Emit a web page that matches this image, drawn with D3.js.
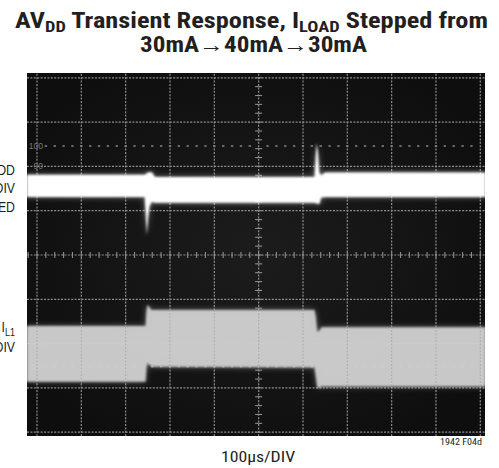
<!DOCTYPE html>
<html><head><meta charset="utf-8">
<script src="https://cdn.jsdelivr.net/npm/d3@7"></script>
<style>body{margin:0;background:#fff}svg{display:block}</style>
</head><body>
<svg id="c" width="499" height="468"></svg>
<script>
// ---- data (time in µs, level in divisions from screen centre) ----
const timeDivs = [0,1,2,3,4,5,6,7,8,9,10];          // 100µs/DIV
const levelDivs = [-4,-3,-2,-1,0,1,2,3,4];
const pctLabels = [{t:"100",v:2.46},{t:"90",v:2},{t:"10",v:-2},{t:"0%",v:-2.52}];

const avddT     = [-23, 243, 246, 248, 251, 254, 259, 266, 626, 629, 631, 634, 637, 641, 650, 1012];
const avddUpper = [1.81,1.81,1.83,1.85,1.86,1.87,1.87,1.76,1.76,2.30,2.52,2.30,1.85,1.80,1.86,1.86];
const avddLower = [1.31,1.31,0.75,0.45,0.85,1.10,1.20,1.18,1.18,1.17,1.17,1.15,1.15,1.30,1.31,1.31];

const iloadT     = [-23, 245, 247, 249, 253, 258, 626, 629, 632, 636, 642, 1012];
const iloadUpper = [-1.60,-1.60,-1.25,-1.13,-1.17,-1.24,-1.24,-1.40,-1.73,-1.72,-1.63,-1.63];
const iloadLower = [-2.86,-2.86,-2.55,-2.44,-2.47,-2.52,-2.54,-2.75,-2.99,-3.00,-2.97,-2.97];

const svg = d3.select("#c");
const narrow = "'Liberation Sans Narrow','Arial Narrow','Roboto Condensed','Liberation Sans',Arial,sans-serif";

// scales
const x = d3.scaleLinear().domain([0,1000]).range([37,480.3]);
const y = d3.scaleLinear().domain([-4,4]).range([432.2,77.8]);

// defs
const defs = svg.append("defs");
const glow = defs.append("filter").attr("id","glow").attr("x","-5%").attr("y","-20%").attr("width","110%").attr("height","140%");
glow.append("feGaussianBlur").attr("stdDeviation",1.1);
const glow2 = defs.append("filter").attr("id","halo").attr("x","-5%").attr("y","-30%").attr("width","110%").attr("height","160%");
glow2.append("feGaussianBlur").attr("stdDeviation",3);
const rg = defs.append("radialGradient").attr("id","bg").attr("cx","50%").attr("cy","50%").attr("r","60%");
rg.append("stop").attr("offset","0%").attr("stop-color","#1c1c1c");
rg.append("stop").attr("offset","100%").attr("stop-color","#0e0e0e");
defs.append("clipPath").attr("id","scr").append("rect").attr("x",27).attr("y",73).attr("width",458).attr("height",363);

// title
function fitText(g, width){
  const w = g.node().getBBox().width;
  g.attr("transform", `scale(${width/w},1)`);
}
function title(cx, base, width, parts, size){
  const outer = svg.append("g").attr("transform",`translate(${cx},${base})`);
  const inner = outer.append("g");
  const t = inner.append("text").attr("text-anchor","middle").attr("font-family",narrow)
    .attr("font-weight","bold").attr("font-size",size).attr("fill","#231f20");
  parts.forEach(p=>{
    const s = t.append("tspan").text(p.t);
    if(p.sub){ s.attr("font-size",size*0.7).attr("dy",4); }
    else if(p.after){ s.attr("dy",-4); }
  });
  fitText(inner, width);
}
title(251.5, 28, 473, [{t:"AV"},{t:"DD",sub:true},{t:" Transient Response, I",after:true},{t:"LOAD",sub:true},{t:" Stepped from",after:true}], 22);
title(253.5, 52, 227, [{t:"30mA→40mA→30mA"}], 22);

// scope screen
const scope = svg.append("g").attr("clip-path","url(#scr)");
scope.append("rect").attr("x",27).attr("y",73).attr("width",458).attr("height",363).attr("fill","url(#bg)");

const gridC = "#8e8e8e";
const grid = scope.append("g");
grid.selectAll("line.v").data(timeDivs).join("line")
  .attr("x1",d=>x(d*100)).attr("x2",d=>x(d*100)).attr("y1",y(4)-4).attr("y2",y(-4)+4)
  .attr("stroke",gridC).attr("stroke-width",1.2).attr("stroke-dasharray","2 1.4");
grid.selectAll("line.h").data(levelDivs).join("line")
  .attr("y1",d=>y(d)).attr("y2",d=>y(d)).attr("x1",27).attr("x2",485)
  .attr("stroke",gridC).attr("stroke-width",1.2).attr("stroke-dasharray","2 1.4");
// minor ticks on centre axes
const minorX = d3.range(-0.2,10.21,0.2);
grid.selectAll("line.mx").data(minorX).join("line")
  .attr("x1",d=>x(d*100)).attr("x2",d=>x(d*100)).attr("y1",y(0)-3).attr("y2",y(0)+3)
  .attr("stroke",gridC).attr("stroke-width",1.1);
const minorY = d3.range(-4,4.01,0.2);
grid.selectAll("line.my").data(minorY).join("line")
  .attr("y1",d=>y(d)).attr("y2",d=>y(d)).attr("x1",x(500)-3.5).attr("x2",x(500)+3.5)
  .attr("stroke",gridC).attr("stroke-width",1.1);
// 100% / 0% dotted rows
[2.46,-2.52].forEach(v=>{
  grid.selectAll(null).data(d3.range(0.2,10,0.2).filter(d=>Math.abs(d-5)>0.05)).join("line")
    .attr("x1",d=>x(d*100)-1.2).attr("x2",d=>x(d*100)+1.2).attr("y1",y(v)).attr("y2",y(v))
    .attr("stroke",gridC).attr("stroke-width",1.4);
});
grid.selectAll("text.pct").data(pctLabels).join("text")
  .attr("x",43).attr("y",d=>y(d.v)+3).attr("text-anchor","end")
  .attr("font-family","'Liberation Sans',Arial,sans-serif").attr("font-size",8.5)
  .attr("fill","#777").text(d=>d.t);

// traces
const avdd = avddT.map((t,i)=>({t,u:avddUpper[i],l:avddLower[i]}));
const iload = iloadT.map((t,i)=>({t,u:iloadUpper[i],l:iloadLower[i]}));
const area = d3.area().x(d=>x(d.t)).y0(d=>y(d.l)).y1(d=>y(d.u));

scope.append("path").datum(iload).attr("d",area).attr("fill","#bdbdbd").attr("opacity",0.5).attr("filter","url(#halo)");
scope.append("path").datum(iload).attr("d",area).attr("fill","#cfcfcf").attr("opacity",0.94).attr("filter","url(#glow)");
scope.append("path").datum(avdd).attr("d",area).attr("fill","#ffffff").attr("opacity",0.45).attr("filter","url(#halo)");
scope.append("path").datum(avdd).attr("d",area).attr("fill","#ffffff").attr("filter","url(#glow)");

// faint graticule seen through the gray band
scope.append("g").attr("opacity",0.25).selectAll("line").data(timeDivs).join("line")
  .attr("x1",d=>x(d*100)).attr("x2",d=>x(d*100)).attr("y1",y(-1)).attr("y2",y(-3.1))
  .attr("stroke","#666").attr("stroke-width",1.2).attr("stroke-dasharray","2 1.4");

// left channel labels (clipped at page edge, as in the reference)
function leftLabel(lines){
  const g = svg.append("g").attr("transform","translate(15,0) scale(0.82,1)");
  lines.forEach(L=>{
    const t = g.append("text").attr("x",0).attr("y",L.y).attr("text-anchor","end")
      .attr("font-family","'Liberation Sans',Arial,sans-serif").attr("font-size",15).attr("fill","#231f20");
    L.parts.forEach(p=>{
      const s = t.append("tspan").text(p.t);
      if(p.sub) s.attr("font-size",11).attr("dy",4);
    });
  });
}
leftLabel([
  {y:175, parts:[{t:"AVDD"}]},
  {y:193.5, parts:[{t:"20mV/DIV"}]},
  {y:212, parts:[{t:"AC COUPLED"}]},
  {y:332, parts:[{t:"I"},{t:"L1",sub:true}]},
  {y:352, parts:[{t:"100mA/DIV"}]}
]);

// x-axis caption
(function(){
  const outer = svg.append("g").attr("transform","translate(258,462)");
  const inner = outer.append("g");
  inner.append("text").attr("text-anchor","middle").attr("font-family",narrow)
    .attr("font-size",15).attr("fill","#231f20").text("100µs/DIV");
  fitText(inner, 75);
})();
(function(){
  const outer = svg.append("g").attr("transform","translate(461,445)");
  const inner = outer.append("g");
  inner.append("text").attr("text-anchor","middle").attr("font-family",narrow)
    .attr("font-size",8.5).attr("fill","#231f20").text("1942 F04d");
  fitText(inner, 42);
})();
</script>
</body></html>
